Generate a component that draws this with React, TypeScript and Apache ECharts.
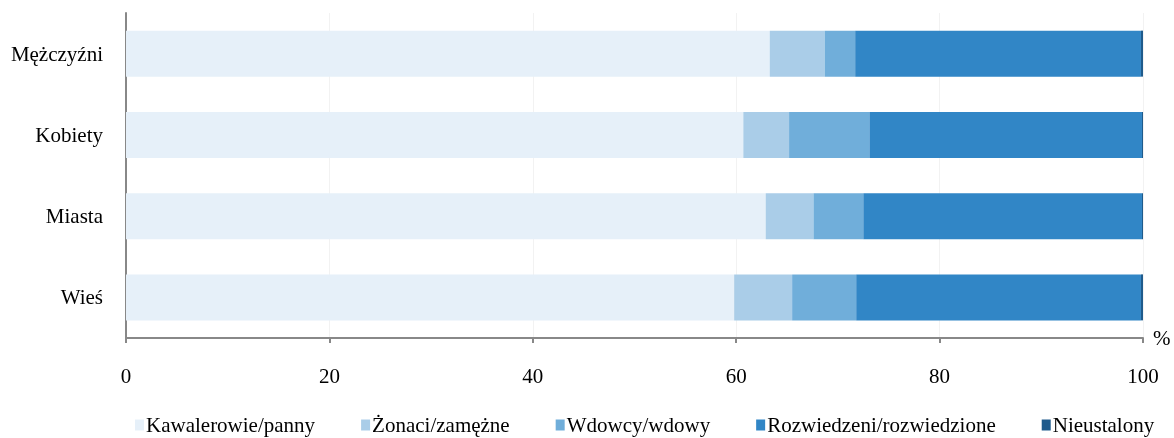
import React, { useEffect, useRef } from "react";
import * as echarts from "echarts";

const categories = ["Mężczyźni", "Kobiety", "Miasta", "Wieś"];
const seriesNames = [
  "Kawalerowie/panny",
  "Żonaci/zamężne",
  "Wdowcy/wdowy",
  "Rozwiedzeni/rozwiedzione",
  "Nieustalony",
];
const kawalerowie = [63.3, 60.7, 62.9, 59.8];
const zonaci = [5.4, 4.5, 4.7, 5.7];
const wdowcy = [3.0, 7.9, 4.9, 6.3];
const rozwiedzeni = [28.1, 26.8, 27.4, 28.0];
const nieustalony = [0.2, 0.1, 0.1, 0.2];
const xTicks = [0, 20, 40, 60, 80, 100];
const colors = ["#E6F0F9", "#AACDE8", "#70AEDA", "#3186C6", "#1F5B8C"];

const FONT = "Times New Roman, Liberation Serif, DejaVu Serif, serif";
const FS = 21;

export default function App() {
  const ref = useRef<HTMLDivElement>(null);
  useEffect(() => {
    if (!ref.current) return;
    const chart = echarts.init(ref.current, undefined, { renderer: "svg" });
    const values = [kawalerowie, zonaci, wdowcy, rozwiedzeni, nieustalony];
    chart.setOption({
      animation: false,
      color: colors,
      textStyle: { fontFamily: FONT },
      grid: { left: 126, right: 31, top: 13, bottom: 100, containLabel: false },
      legend: {
        top: 414,
        left: 135,
        padding: 0,
        itemWidth: 9,
        itemHeight: 11,
        itemGap: 46,
        icon: "rect",
        textStyle: { fontFamily: FONT, fontSize: FS, lineHeight: 22, color: "#000", padding: [0, 0, 0, -3] },
        data: seriesNames,
      },
      xAxis: {
        type: "value",
        min: xTicks[0],
        max: xTicks[xTicks.length - 1],
        interval: 20,
        name: "%",
        nameLocation: "end",
        nameGap: 10,
        nameTextStyle: { fontFamily: FONT, fontSize: FS, color: "#000", verticalAlign: "middle" },
        axisLine: { show: true, lineStyle: { color: "#888", width: 2 } },
        axisTick: { show: true, length: 5, lineStyle: { color: "#888", width: 2 } },
        axisLabel: { fontFamily: FONT, fontSize: FS, color: "#000", margin: 27 },
        splitLine: { show: true, lineStyle: { color: "#f2f2f2", width: 1 } },
      },
      yAxis: {
        type: "category",
        inverse: true,
        data: categories,
        axisLine: { show: true, lineStyle: { color: "#888", width: 2 } },
        axisTick: { show: false },
        axisLabel: { fontFamily: FONT, fontSize: FS, color: "#000", margin: 23 },
      },
      series: seriesNames.map((name, i) => ({
        name,
        type: "bar",
        stack: "total",
        barWidth: 46,
        data: values[i],
        itemStyle: { color: colors[i] },
      })),
    });
    return () => chart.dispose();
  }, []);
  return (
    <div
      ref={ref}
      style={{ position: "fixed", left: 0, top: 0, width: 1174, height: 438 }}
    />
  );
}
